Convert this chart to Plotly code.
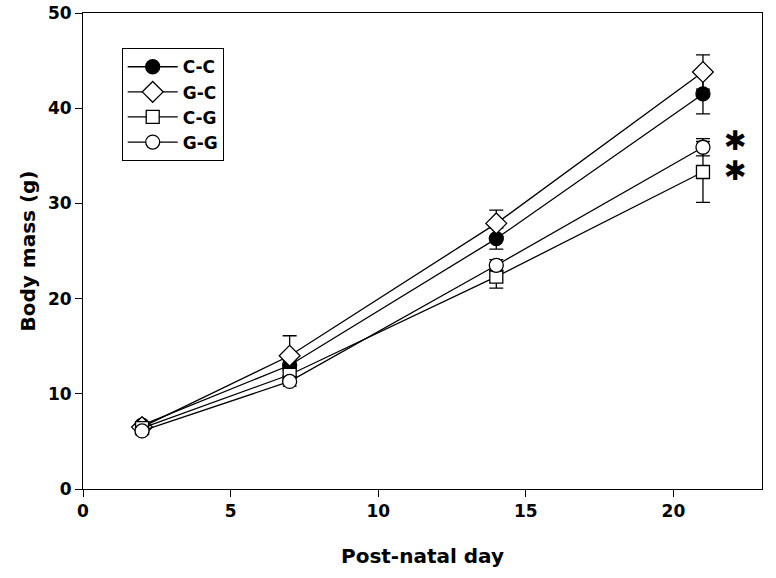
import plotly.graph_objects as go

days = [2, 7, 14, 21]
series_names = ["C-C", "G-C", "C-G", "G-G"]
cc = [6.7, 13.0, 26.3, 41.5]
gc = [6.5, 14.0, 27.9, 43.8]
cg = [6.4, 12.0, 22.3, 33.3]
gg = [6.1, 11.3, 23.5, 35.9]
cc_err = [0.3, 0.5, 1.1, 2.1]
gc_err = [0.3, 2.1, 1.4, 1.8]
cg_err = [0.3, 0.6, 1.2, 3.2]
gg_err = [0.3, 0.5, 0.6, 0.9]
star_x = [22.1, 22.1]
star_y = [36.7, 33.5]
x_ticks = [0, 5, 10, 15, 20]
y_ticks = [0, 10, 20, 30, 40, 50]

styles = [
    ("circle", "black"),
    ("diamond", "white"),
    ("square", "white"),
    ("circle", "white"),
]
values = [cc, gc, cg, gg]
errs = [cc_err, gc_err, cg_err, gg_err]
sizes = [14, 16, 13, 14]

fig = go.Figure()
for name, vals, err, (sym, fill), sz in zip(series_names, values, errs, styles, sizes):
    fig.add_trace(go.Scatter(
        x=days, y=vals, name=name, mode="lines+markers",
        line=dict(color="black", width=1.3),
        marker=dict(symbol=sym, size=sz, color=fill, line=dict(color="black", width=1.3)),
        error_y=dict(type="data", array=err, visible=True, color="black", thickness=1.3, width=7),
    ))

for sx, sy in zip(star_x, star_y):
    fig.add_annotation(x=sx, y=sy, text="✱", showarrow=False,
                       font=dict(size=27, color="black", family="DejaVu Sans"),
                       xanchor="center", yanchor="middle", height=26)

tick_font = dict(family="DejaVu Sans", size=17, color="black", weight="bold")
fig.update_layout(
    width=776, height=578,
    margin=dict(l=83, r=14, t=13, b=89),
    plot_bgcolor="white", paper_bgcolor="white",
    font=dict(family="DejaVu Sans", color="black"),
    showlegend=True,
    legend=dict(
        x=0.057, y=0.926, xanchor="left", yanchor="top",
        bordercolor="black", borderwidth=1, bgcolor="white",
        font=dict(family="DejaVu Sans", size=17, color="black", weight="bold"),
        tracegroupgap=0, itemwidth=50,
    ),
    xaxis=dict(
        range=[0, 23.0], tickvals=x_ticks, showgrid=False, zeroline=False,
        showline=True, linecolor="black", linewidth=1, mirror=True,
        ticks="outside", ticklen=7, tickcolor="black", automargin=False,
        tickfont=tick_font,
        title=dict(text="<b>Post-natal day</b>", font=dict(family="DejaVu Sans", size=20, color="black"), standoff=28),
    ),
    yaxis=dict(
        range=[0, 50], tickvals=y_ticks, showgrid=False, zeroline=False,
        showline=True, linecolor="black", linewidth=1, mirror=True,
        ticks="outside", ticklen=7, tickcolor="black", automargin=False,
        tickfont=tick_font,
        title=dict(text="<b>Body mass (g)</b>", font=dict(family="DejaVu Sans", size=20, color="black"), standoff=6),
    ),
)

fig.write_html("out.html", config={"displayModeBar": False},
               post_script="document.body.style.margin='0';")
